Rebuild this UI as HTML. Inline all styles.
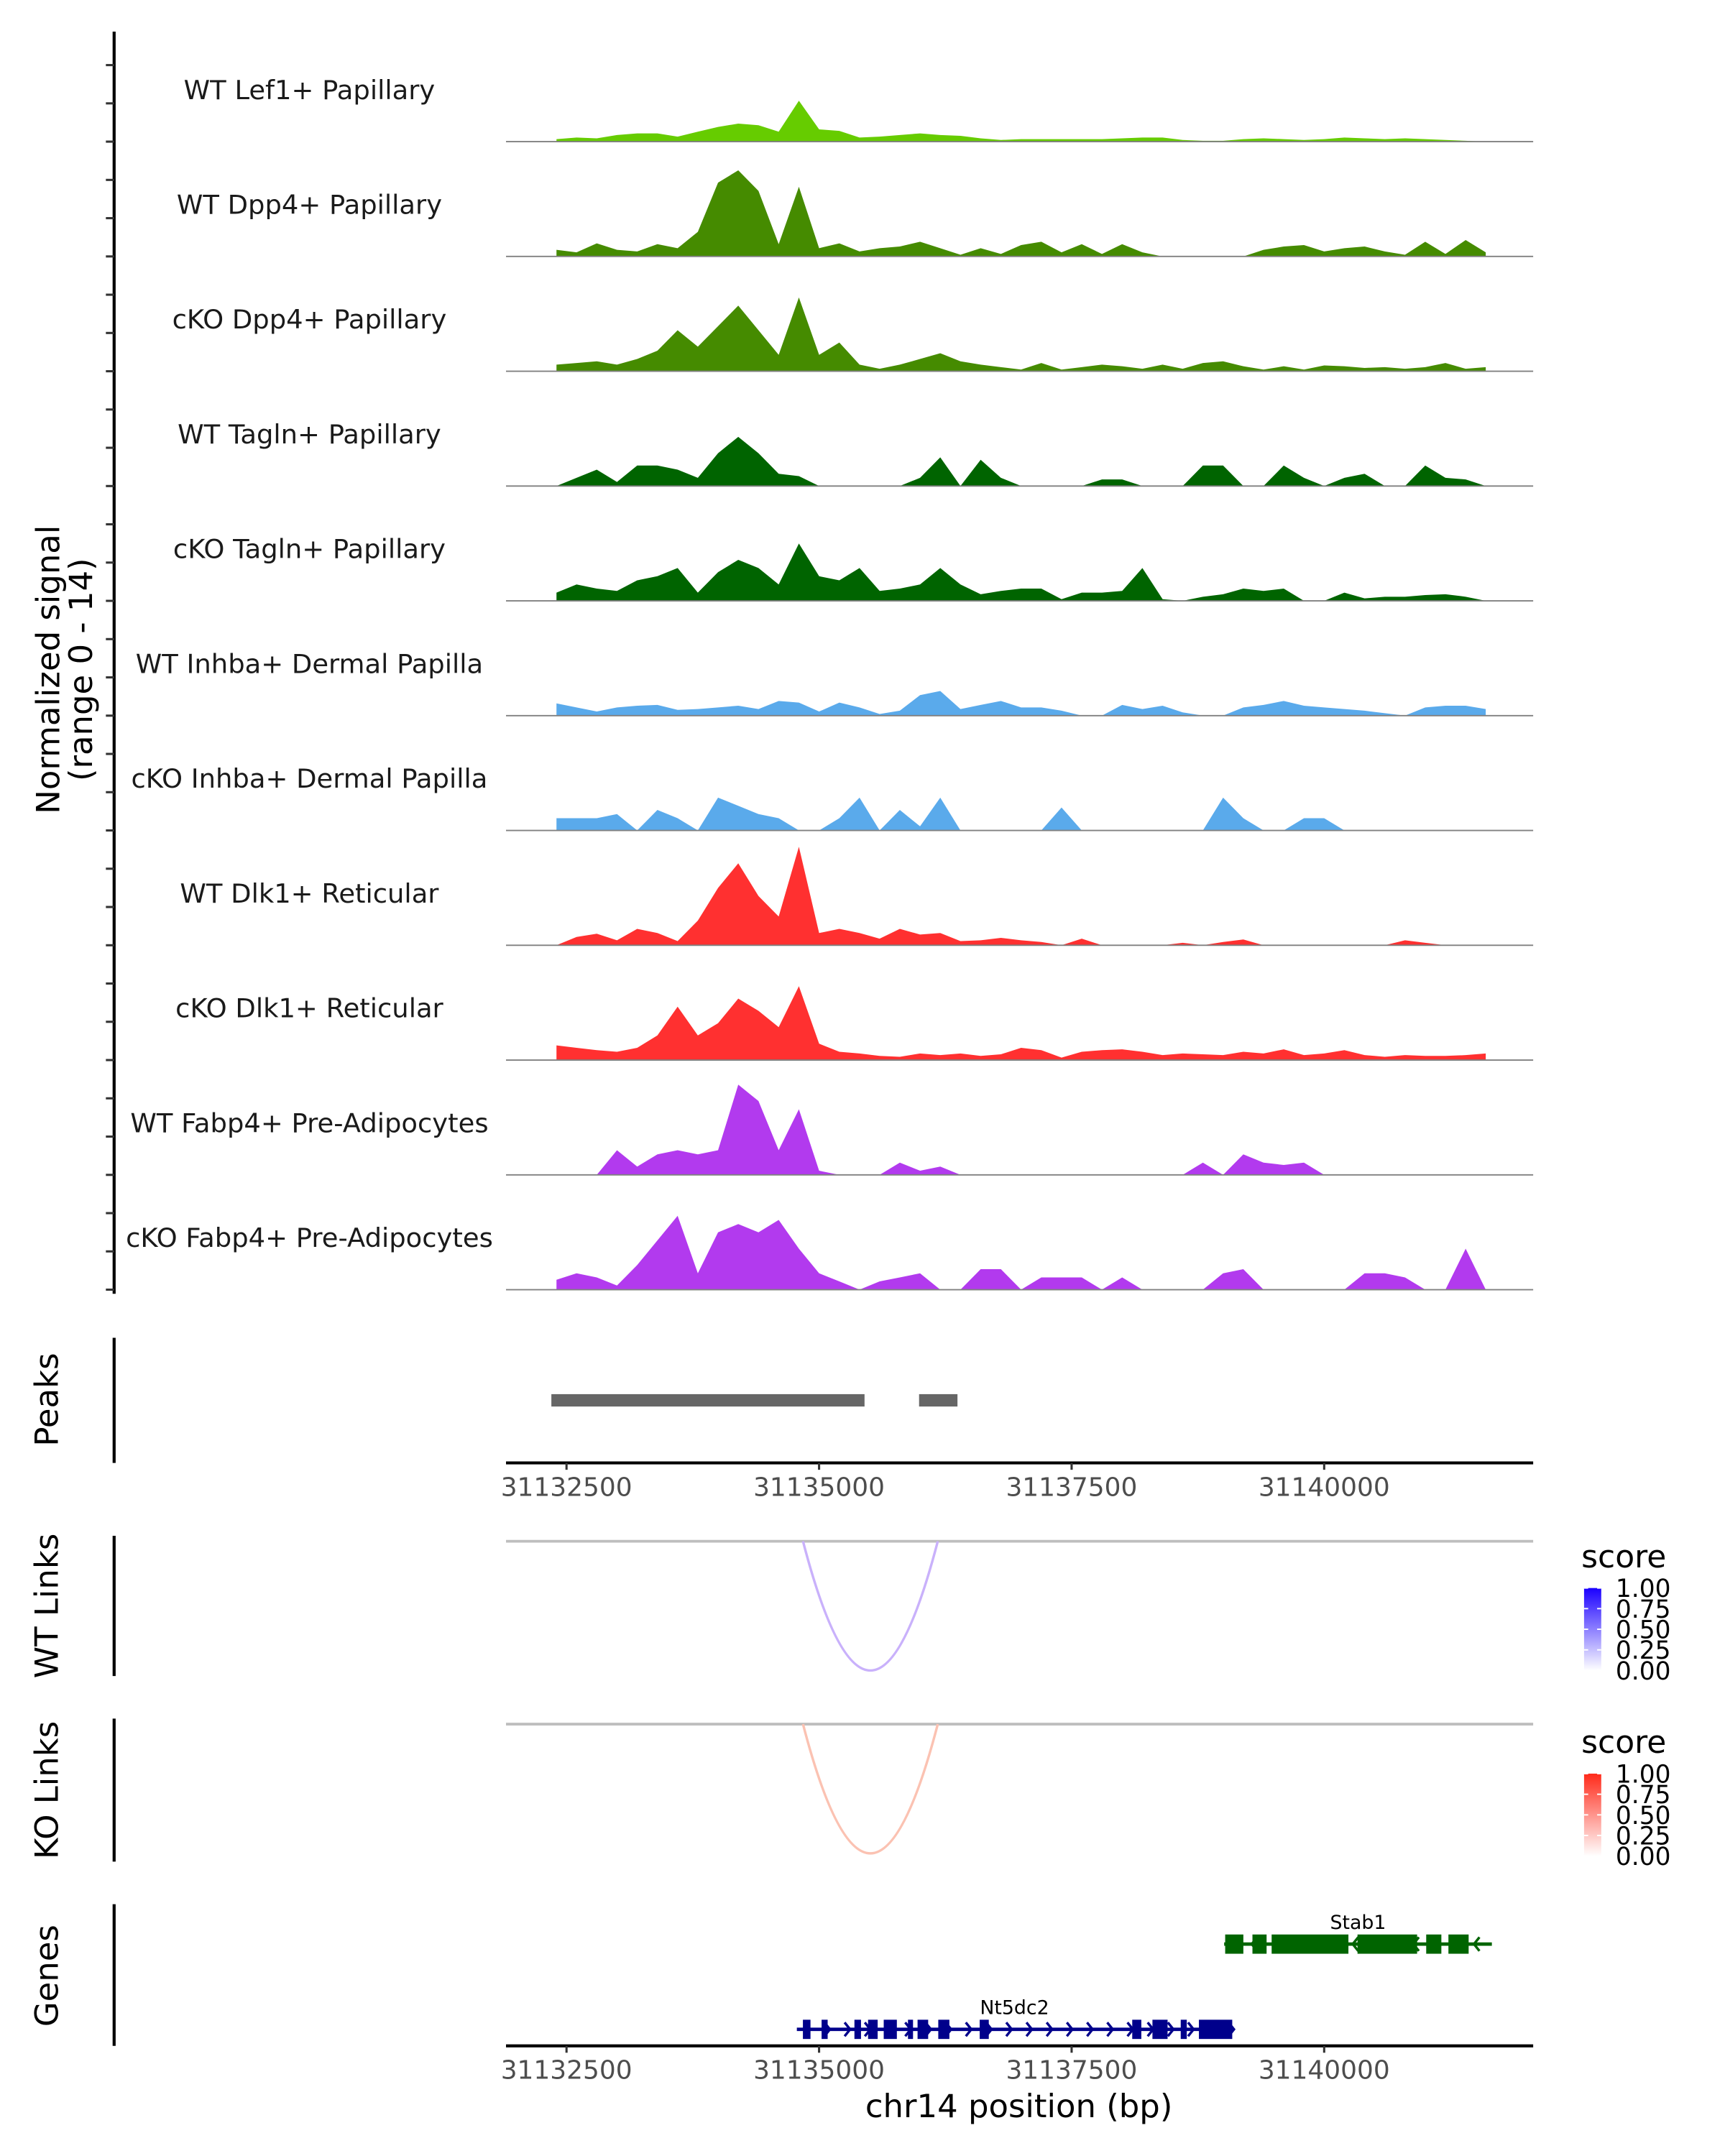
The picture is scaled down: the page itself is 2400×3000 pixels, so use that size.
<!DOCTYPE html>
<html><head><meta charset="utf-8">
<style>
html,body{margin:0;padding:0;background:#fff;}
svg{display:block;font-family:"DejaVu Sans","Liberation Sans",sans-serif;}
</style></head>
<body>
<svg id="fig" width="2400" height="3000" viewBox="0 0 1254.5 1568.1" xmlns="http://www.w3.org/2000/svg">
<defs>
<linearGradient id="gBlue" x1="0" y1="1" x2="0" y2="0"><stop offset="0" stop-color="#ffffff"/><stop offset="1" stop-color="#1a00ff"/></linearGradient>
<linearGradient id="gRed" x1="0" y1="1" x2="0" y2="0"><stop offset="0" stop-color="#ffffff"/><stop offset="1" stop-color="#ff2a1a"/></linearGradient>
</defs>
<g id="tracks"></g>
<g id="leftaxis"></g>
<text transform="translate(43,487) rotate(-90)" text-anchor="middle" font-size="23.5" fill="#000">Normalized signal</text>
<text transform="translate(67,487) rotate(-90)" text-anchor="middle" font-size="23.5" fill="#000">(range 0 - 14)</text>
<g id="peaks"></g>
<g id="links"></g>
<g id="genes"></g>
</svg>
<script>
const NS="http://www.w3.org/2000/svg";
// ---- data ----
const binStart=31132400;
const binSize=200;
const trackNames=["WT Lef1+ Papillary","WT Dpp4+ Papillary","cKO Dpp4+ Papillary","WT Tagln+ Papillary","cKO Tagln+ Papillary","WT Inhba+ Dermal Papilla","cKO Inhba+ Dermal Papilla","WT Dlk1+ Reticular","cKO Dlk1+ Reticular","WT Fabp4+ Pre-Adipocytes","cKO Fabp4+ Pre-Adipocytes"];
const trackColors=["#66cc00","#458b00","#458b00","#006400","#006400","#5aaaeb","#5aaaeb","#ff3030","#ff3030","#b23aee","#b23aee"];
const wtLef1=[0.3,0.5,0.4,0.8,1,1,0.6,1.2,1.8,2.2,2,1.2,5,1.5,1.3,0.5,0.6,0.8,1,0.8,0.7,0.4,0.2,0.3,0.3,0.3,0.3,0.3,0.4,0.5,0.5,0.2,0.1,0.1,0.3,0.4,0.3,0.2,0.3,0.5,0.4,0.3,0.4,0.3,0.2,0.1,0];
const wtDpp4=[0.8,0.5,1.6,0.8,0.6,1.5,1,3,9,10.5,8,1.5,8.5,1,1.6,0.6,1,1.2,1.8,1,0.2,1,0.3,1.4,1.8,0.5,1.5,0.3,1.5,0.5,0,0,0,0,0,0.8,1.2,1.4,0.6,1,1.2,0.6,0.2,1.8,0.3,2,0.5];
const koDpp4=[0.8,1,1.2,0.8,1.5,2.5,5,3,5.5,8,5,2,9,2,3.5,0.8,0.3,0.8,1.5,2.2,1.2,0.8,0.5,0.2,1,0.2,0.5,0.8,0.6,0.3,0.8,0.3,1,1.2,0.6,0.2,0.6,0.2,0.7,0.6,0.4,0.5,0.3,0.5,1,0.3,0.5];
const wtTagln=[0,1,2,0.5,2.5,2.5,2,1,4,6,4,1.5,1.2,0,0,0,0,0,1,3.5,0,3.2,1,0,0,0,0,0.8,0.8,0,0,0,2.5,2.5,0,0,2.5,1,0,1,1.5,0,0,2.5,1,0.8,0];
const koTagln=[1,2,1.5,1.2,2.5,3,4,1,3.5,5,4,2,7,3,2.5,4,1.2,1.5,2,4,2,0.8,1.2,1.5,1.5,0.2,1,1,1.2,4,0.2,0,0.5,0.8,1.5,1.2,1.5,0,0,1,0.3,0.5,0.5,0.7,0.8,0.5,0];
const wtInhba=[1.5,1,0.5,1,1.2,1.3,0.7,0.8,1,1.2,0.8,1.8,1.6,0.5,1.6,1,0.2,0.6,2.5,3,0.8,1.3,1.8,1,1,0.6,0,0,1.3,0.8,1.2,0.4,0,0,1,1.3,1.8,1.2,1,0.8,0.6,0.3,0,1,1.2,1.2,0.8];
const koInhba=[1.5,1.5,1.5,2,0,2.5,1.5,0,4,3,2,1.5,0,0,1.5,4,0,2.5,0.5,4,0,0,0,0,0,2.8,0,0,0,0,0,0,0,4,1.5,0,0,1.5,1.5,0,0,0,0,0,0,0,0];
const wtDlk1=[0,1,1.4,0.6,2,1.5,0.5,3,7,10,6,3.5,12,1.5,2,1.5,0.8,2,1.3,1.5,0.5,0.6,0.9,0.6,0.4,0,0.8,0,0,0,0,0.3,0,0.4,0.7,0,0,0,0,0,0,0,0.6,0.3,0,0,0];
const koDlk1=[1.8,1.5,1.2,1,1.5,3,6.5,3,4.5,7.5,6,4,9,2,1,0.8,0.5,0.4,0.8,0.6,0.8,0.5,0.7,1.5,1.2,0.3,1,1.2,1.3,1,0.6,0.8,0.7,0.6,1,0.8,1.3,0.6,0.8,1.2,0.6,0.4,0.6,0.5,0.5,0.6,0.8];
const wtFabp4=[0,0,0,3,1,2.5,3,2.5,3,11,9,3,8,0.5,0,0,0,1.5,0.5,1,0,0,0,0,0,0,0,0,0,0,0,0,1.5,0,2.5,1.5,1.2,1.5,0,0,0,0,0,0,0,0,0];
const koFabp4=[1.2,2,1.5,0.5,3,6,9,2,7,8,7,8.5,5,2,1,0,1,1.5,2,0,0,2.5,2.5,0,1.5,1.5,1.5,0,1.5,0,0,0,0,2,2.5,0,0,0,0,0,2,2,1.5,0,0,5,0];
const trackValues=[wtLef1,wtDpp4,koDpp4,wtTagln,koTagln,wtInhba,koInhba,wtDlk1,koDlk1,wtFabp4,koFabp4];
const signalMax=14;
const peakStarts=[31132350,31135990];
const peakEnds=[31135450,31136370];
const xTicks=[31132500,31135000,31137500,31140000];
const linkStart=[31134841];
const linkEnd=[31136175];
const wtLinkScore=[0.3];
const koLinkScore=[0.3];
const legendTicks=["1.00","0.75","0.50","0.25","0.00"];
const stab1Exons=[[31139020,31139200],[31139290,31139430],[31139480,31140240],[31140330,31140920],[31141010,31141160],[31141230,31141430]];
const stab1Range=[31139010,31141660];
const nt5Exons=[[31134840,31134915],[31135025,31135085],[31135350,31135415],[31135485,31135580],[31135640,31135770],[31135880,31135930],[31135975,31136080],[31136180,31136290],[31136590,31136680],[31138100,31138190],[31138300,31138450],[31138580,31138640],[31138760,31139090]];
const nt5Range=[31134780,31139090];
// ---- scales ----
const X0=412, XPB=551/7500;
function xs(bp){return X0+(bp-31132500)*XPB;}
const base0=103, trackH=83.5;
function mk(tag,attrs,parent){const e=document.createElementNS(NS,tag);for(const k in attrs)e.setAttribute(k,attrs[k]);parent.appendChild(e);return e;}
const tracks=document.getElementById('tracks');
trackValues.forEach((vals,t)=>{
  const base=base0+t*trackH;
  const g=mk('g',{},tracks);
  
  
  let d='M'+xs(binStart).toFixed(1)+','+base;
  vals.forEach((v,i)=>{const x=xs(binStart+i*binSize);const y=base-v/signalMax*trackH;d+=' L'+x.toFixed(1)+','+y.toFixed(1);});
  d+=' L'+xs(binStart+(vals.length-1)*binSize).toFixed(1)+','+base+' Z';
  const p=mk('path',{d:d,fill:trackColors[t]},g);
  
  
  const bl=mk('line',{x1:368,x2:1115,y1:base,y2:base,stroke:'#808080','stroke-width':1},g);
  
  
  const lb=mk('text',{x:225,y:base-31,'text-anchor':'middle','font-size':19.3,fill:'#1a1a1a'},g);
  lb.textContent=trackNames[t];
  
  
});
// left axis
const la=document.getElementById('leftaxis');
mk('line',{x1:83,x2:83,y1:23,y2:941,stroke:'#000','stroke-width':2.2},la);
for(let t=0;t<11;t++){for(let k=0;k<3;k++){const y=base0+t*trackH-k*trackH/3;const tk=mk('line',{x1:77,x2:83,y1:y,y2:y,stroke:'#333','stroke-width':1.6},la);}}
// peaks
const pk=document.getElementById('peaks');
mk('line',{x1:83,x2:83,y1:973,y2:1064,stroke:'#000','stroke-width':2.2},pk);
const pl=mk('text',{transform:'translate(42,1018) rotate(-90)','text-anchor':'middle','font-size':23.5},pk);pl.textContent='Peaks';


peakStarts.forEach((s,i)=>{const r=mk('rect',{x:xs(s),y:1014,width:xs(peakEnds[i])-xs(s),height:9,fill:'#666666'},pk);});
function xAxis(parent,y,name){
  const g=mk('g',{},parent);
  
  
  mk('line',{x1:368,x2:1115,y1:y,y2:y,stroke:'#000','stroke-width':2.2},g);
  xTicks.forEach(v=>{const x=xs(v);mk('line',{x1:x,x2:x,y1:y,y2:y+5,stroke:'#333','stroke-width':1.6},g);
    const t=mk('text',{x:x,y:y+24,'text-anchor':'middle','font-size':18.8,fill:'#4d4d4d'},g);t.textContent=v;
    
    });
}
xAxis(pk,1064,'x-axis-top');
// links
const lk=document.getElementById('links');
function linkPanel(y0,yAxTop,yAxBot,label,scores,color,grad,legY){
  const g=mk('g',{},lk);
  
  
  mk('line',{x1:83,x2:83,y1:yAxTop,y2:yAxBot,stroke:'#000','stroke-width':2.2},g);
  const t=mk('text',{transform:'translate(42,'+((yAxTop+yAxBot)/2)+') rotate(-90)','text-anchor':'middle','font-size':23.5},g);t.textContent=label;
  mk('line',{x1:368,x2:1115,y1:y0,y2:y0,stroke:'#bebebe','stroke-width':2},g);
  linkStart.forEach((s,i)=>{const x1=xs(s),x2=xs(linkEnd[i]);const dep=94;const c=y0+dep*2;
    const a=mk('path',{d:`M${x1},${y0} Q${(x1+x2)/2},${c} ${x2},${y0}`,fill:'none',stroke:color,'stroke-width':1.8},g);
    
    });
  const lg=mk('g',{},g);
  
  
  const tt=mk('text',{x:1150,y:legY,'font-size':23},lg);tt.textContent='score';
  const by=legY+15;
  mk('rect',{x:1152,y:by,width:12.5,height:60,fill:'url(#'+grad+')'},lg);
  legendTicks.forEach((s,i)=>{const y=by+i*15;
    mk('line',{x1:1152,x2:1155,y1:y,y2:y,stroke:'#fff','stroke-width':1},lg);
    mk('line',{x1:1161.5,x2:1164.5,y1:y,y2:y,stroke:'#fff','stroke-width':1},lg);
    const tx=mk('text',{x:1175,y:y+6.5,'font-size':18},lg);tx.textContent=s;});
}
linkPanel(1121,1117,1219,'WT Links',wtLinkScore,'#c9b1fb','gBlue',1140);
linkPanel(1254,1250,1354,'KO Links',koLinkScore,'#fbc2b2','gRed',1275);
// genes
const gn=document.getElementById('genes');
mk('line',{x1:83,x2:83,y1:1385,y2:1488,stroke:'#000','stroke-width':2.2},gn);
const gl=mk('text',{transform:'translate(42,1437) rotate(-90)','text-anchor':'middle','font-size':23.5},gn);gl.textContent='Genes';


function gene(name,range,exons,y,color,dir){
  const g=mk('g',{},gn);
  
  
  mk('line',{x1:xs(range[0]),x2:xs(range[1]),y1:y,y2:y,stroke:color,'stroke-width':2.5},g);
  exons.forEach(e=>mk('rect',{x:xs(e[0]),y:y-7,width:xs(e[1])-xs(e[0]),height:14,fill:color},g));
  for(let bp=range[0]+100;bp<range[1];bp+=200){const x=xs(bp);
    mk('path',{d:dir>0?`M${x-2},${y-5} L${x+2},${y} L${x-2},${y+5}`:`M${x+2},${y-5} L${x-2},${y} L${x+2},${y+5}`,fill:'none',stroke:color,'stroke-width':1.8},g);}
  const t=mk('text',{x:(xs(range[0])+xs(range[1]))/2,y:y-11,'text-anchor':'middle','font-size':14},g);t.textContent=name;
}
gene('Stab1',stab1Range,stab1Exons,1414,'#006400',-1);
gene('Nt5dc2',nt5Range,nt5Exons,1476,'#00008b',1);
xAxis(gn,1488,'x-axis-bottom');
const xt=mk('text',{x:741,y:1540,'text-anchor':'middle','font-size':23.5},gn);xt.textContent='chr14 position (bp)';


</script>
</body></html>
